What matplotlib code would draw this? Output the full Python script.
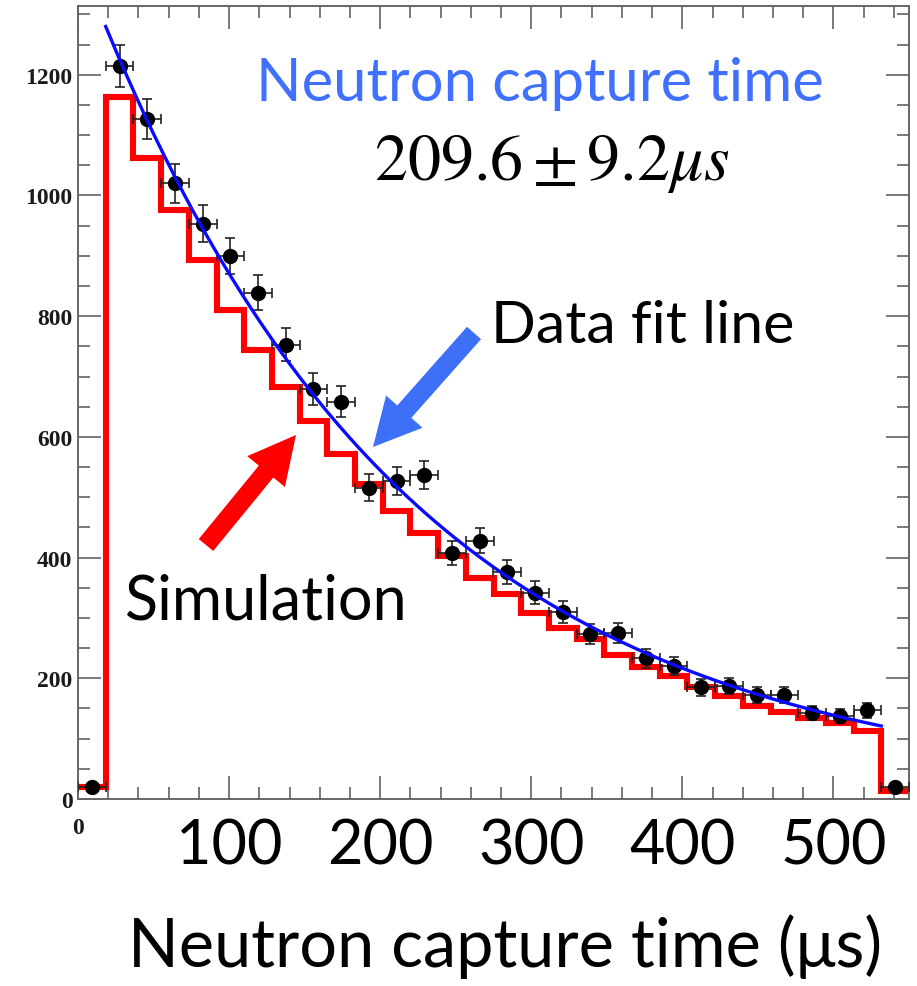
import numpy as np
import matplotlib
matplotlib.use("Agg")
import matplotlib.pyplot as plt
from matplotlib.patches import FancyArrowPatch, ArrowStyle
from matplotlib.ticker import MultipleLocator

plt.rcParams['mathtext.fontset'] = 'stix'

# ---------------- data ----------------
x_min, x_max = 0, 550
n_bins = 30
bin_edges = np.linspace(x_min, x_max, n_bins + 1)
bin_centers = 0.5 * (bin_edges[:-1] + bin_edges[1:])

data_counts = [20, 1215, 1127, 1020, 953, 900, 839, 753, 679, 658,
               516, 527, 537, 408, 428, 376, 342, 310, 274, 275,
               233, 220, 185, 187, 172, 173, 142, 138, 147, 20]
data_errors = np.sqrt(np.array(data_counts, dtype=float))

sim_counts = [20, 1164, 1062, 976, 893, 810, 744, 682, 626, 571,
              522, 478, 441, 402, 366, 340, 308, 283, 265, 238,
              218, 204, 185, 171, 154, 144, 134, 126, 113, 13]

fit_tau = 209.6
fit_tau_err = 9.2
fit_amp = 1384.6
fit_const = 11.4
fit_range = (bin_edges[1], bin_edges[-2])

x_ticks = [0, 100, 200, 300, 400, 500]
x_ticklabels = ["0", "100", "200", "300", "400", "500"]
y_ticks = [0, 200, 400, 600, 800, 1000, 1200]
y_max = 1314

title_text = "Neutron capture time"
fit_text = r"$209.6\pm9.2\mu s$"
xlabel_text = "Neutron capture time (μs)"

# ---------------- figure ----------------
W, H = 917, 987
fig = plt.figure(figsize=(W / 100, H / 100), dpi=100)

def fx(px):
    return px / W

def fy(py):
    return 1 - py / H

ax_l, ax_r, ax_t, ax_b = 78, 909, 7, 800
ax = fig.add_axes([fx(ax_l), fy(ax_b), fx(ax_r) - fx(ax_l), fy(ax_t) - fy(ax_b)])

ax.set_xlim(x_min, x_max)
ax.set_ylim(0, y_max)

# simulation histogram
ax.stairs(sim_counts, bin_edges, baseline=None, color='#ff0000', lw=4.4,
          joinstyle='miter', zorder=2)

# data points
ax.errorbar(bin_centers, data_counts, yerr=data_errors, xerr=(bin_edges[1] - bin_edges[0]) / 2,
            fmt='o', color='black', ms=10, ecolor='#222222', elinewidth=1.2,
            capsize=3.5, capthick=1.2, zorder=3)

# fit line
t = np.linspace(fit_range[0], fit_range[1], 400)
ax.plot(t, fit_amp * np.exp(-t / fit_tau) + fit_const, color='#0a0aff', lw=2.4, zorder=4)

# ticks
ax.xaxis.set_major_locator(MultipleLocator(100))
ax.xaxis.set_minor_locator(MultipleLocator(20))
ax.yaxis.set_major_locator(MultipleLocator(200))
ax.yaxis.set_minor_locator(MultipleLocator(50))
ax.set_xticks(x_ticks)
ax.set_xticklabels(x_ticklabels)
ax.set_yticks(y_ticks)
ax.tick_params(which='both', direction='in', top=True, right=True, color='#555555', width=1.1)
ax.tick_params(which='major', length=16.5)
ax.tick_params(which='minor', length=8.5)
ax.tick_params(axis='x', which='major', pad=13)
ax.tick_params(axis='y', which='major', pad=4)
for s in ax.spines.values():
    s.set_color('#666666')
    s.set_linewidth(1.4)

for lab in ax.get_yticklabels():
    lab.set_fontfamily('Liberation Serif')
    lab.set_fontweight('bold')
    lab.set_fontsize(17)
    lab.set_color('#1a1a1a')
xl = ax.get_xticklabels()
for i, lab in enumerate(xl):
    if i == 0:
        lab.set_fontfamily('Liberation Serif')
        lab.set_fontweight('bold')
        lab.set_fontsize(17)
        lab.set_color('#1a1a1a')
    else:
        lab.set_fontfamily(['Lato', 'DejaVu Sans'])
        lab.set_fontsize(44)
        lab.set_color('black')

# texts
fig.text(fx(540), fy(101), title_text, color='#3f70ff', fontsize=43,
         family=['Lato', 'DejaVu Sans'], ha='center', va='baseline')
fig.text(fx(552), fy(180), fit_text, color='black', fontsize=47.5,
         ha='center', va='baseline')
fig.text(fx(643), fy(343), "Data fit line", color='black', fontsize=42.5,
         family=['Lato', 'DejaVu Sans'], ha='center', va='baseline')
fig.text(fx(266), fy(620), "Simulation", color='black', fontsize=44,
         family=['Lato', 'DejaVu Sans'], ha='center', va='baseline')
fig.text(fx(505), fy(967), xlabel_text, color='black', fontsize=48,
         family=['Lato', 'DejaVu Sans'], ha='center', va='baseline')

# arrows
def arrow(p0, p1, color):
    a = FancyArrowPatch((fx(p0[0]), fy(p0[1])), (fx(p1[0]), fy(p1[1])),
                        transform=fig.transFigure,
                        arrowstyle=ArrowStyle.Simple(head_length=34, head_width=35, tail_width=13.5),
                        mutation_scale=1, color=color, lw=0, shrinkA=0, shrinkB=0)
    fig.add_artist(a)

arrow((474, 334), (373, 448), '#3d6ff7')
arrow((206, 546), (296, 436), '#ff0000')

fig.savefig('out.png', dpi=100)
